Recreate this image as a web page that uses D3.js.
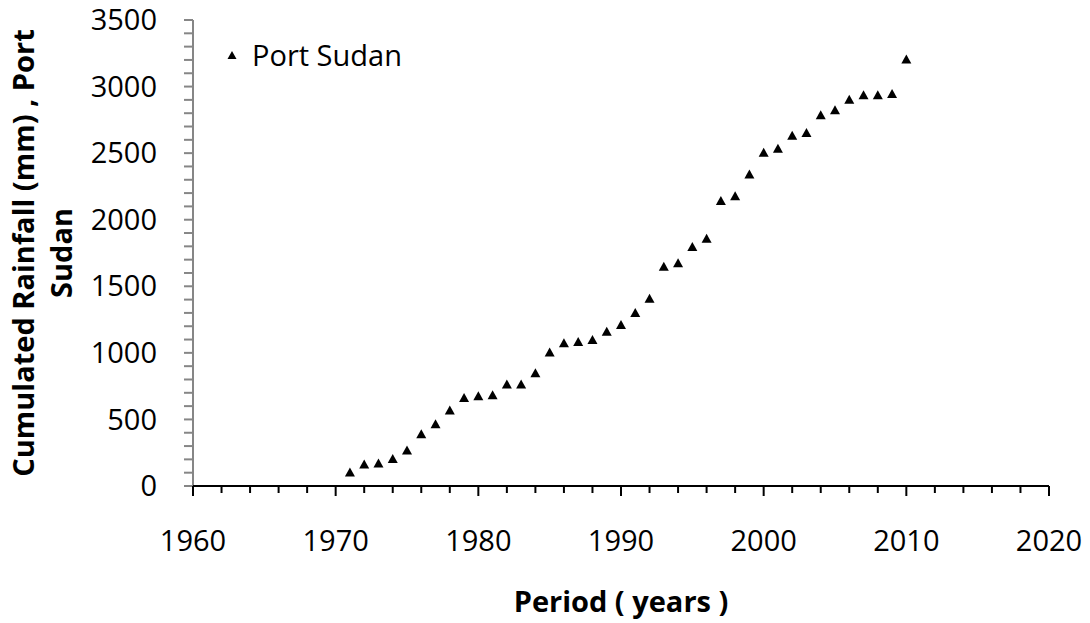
<!DOCTYPE html>
<html>
<head>
<meta charset="utf-8">
<script src="https://cdn.jsdelivr.net/npm/d3@7"></script>
<style>
    body { margin: 0; background: #fff; }
    svg text { font-family: "Open Sans", sans-serif; fill: #000; }
</style>
</head>
<body>
<div id="chart"></div>
<script>
const years = [1971, 1972, 1973, 1974, 1975, 1976, 1977, 1978, 1979, 1980,
    1981, 1982, 1983, 1984, 1985, 1986, 1987, 1988, 1989, 1990,
    1991, 1992, 1993, 1994, 1995, 1996, 1997, 1998, 1999, 2000,
    2001, 2002, 2003, 2004, 2005, 2006, 2007, 2008, 2009, 2010];
const rainfall = [105, 166, 172, 206, 270, 392, 467, 570, 665, 677,
    685, 767, 767, 850, 1007, 1075, 1085, 1100, 1162, 1213,
    1303, 1411, 1651, 1676, 1799, 1861, 2145, 2180, 2344, 2506,
    2537, 2635, 2655, 2789, 2826, 2904, 2939, 2939, 2948, 3208];
const xTicks = [1960, 1970, 1980, 1990, 2000, 2010, 2020];
const yTicks = [0, 500, 1000, 1500, 2000, 2500, 3000, 3500];
const seriesName = 'Port Sudan';

const width = 1090, height = 623;
const margin = { left: 193, right: 41, top: 20, bottom: 137 };

const svg = d3.select('#chart').append('svg')
    .attr('width', width)
    .attr('height', height);

const x = d3.scaleLinear().domain([1960, 2020]).range([margin.left, width - margin.right]);
const y = d3.scaleLinear().domain([0, 3500]).range([height - margin.bottom, margin.top]);

// triangle marker, centred on its bounding box
const tri = (w, h) => `M0 ${-h / 2} L ${w / 2} ${h / 2} L ${-w / 2} ${h / 2} Z`;

// y axis (grey) with minor ticks
const yAxisG = svg.append('g').attr('transform', `translate(${margin.left}, 0)`);
yAxisG.append('line')
    .attr('x1', 0).attr('x2', 0)
    .attr('y1', y(3500)).attr('y2', y(0))
    .attr('stroke', '#868686').attr('stroke-width', 2);
yAxisG.selectAll('.ytick').data(d3.range(0, 3501, 100))
    .join('line').attr('class', 'ytick')
    .attr('x1', -9).attr('x2', 0)
    .attr('y1', d => y(d)).attr('y2', d => y(d))
    .attr('stroke', '#868686').attr('stroke-width', 2);
yAxisG.selectAll('.ylab').data(yTicks)
    .join('text').attr('class', 'ylab')
    .attr('x', -36).attr('y', d => y(d))
    .attr('dy', '0.35em')
    .style('font-size', '29px')
    .style('text-anchor', 'end')
    .text(d => d);

// x axis (black) with minor ticks every 2 years
const xAxisG = svg.append('g').attr('transform', `translate(0, ${y(0)})`);
xAxisG.append('line')
    .attr('x1', x(1960)).attr('x2', x(2020))
    .attr('stroke', '#000').attr('stroke-width', 2);
xAxisG.selectAll('.xminor').data(d3.range(1960, 2021, 2).filter(d => d % 10 !== 0))
    .join('line').attr('class', 'xminor')
    .attr('x1', d => x(d)).attr('x2', d => x(d))
    .attr('y1', 0).attr('y2', 7)
    .attr('stroke', '#000').attr('stroke-width', 2);
xAxisG.selectAll('.xmajor').data(xTicks)
    .join('line').attr('class', 'xmajor')
    .attr('x1', d => x(d)).attr('x2', d => x(d))
    .attr('y1', 0).attr('y2', 10)
    .attr('stroke', '#000').attr('stroke-width', 2);
xAxisG.selectAll('.xlab').data(xTicks)
    .join('text').attr('class', 'xlab')
    .attr('x', d => x(d)).attr('y', 65)
    .style('font-size', '29px')
    .style('text-anchor', 'middle')
    .text(d => d);

// titles
svg.append('text')
    .attr('x', (x(1960) + x(2020)) / 2).attr('y', 612)
    .style('font-size', '29px').style('font-weight', 'bold')
    .style('text-anchor', 'middle')
    .text('Period ( years )');

const yTitle = svg.append('text')
    .attr('transform', `translate(0, ${y(1750)}) rotate(-90)`)
    .style('font-size', '29px').style('font-weight', 'bold')
    .style('text-anchor', 'middle');
yTitle.append('tspan').attr('x', 0).attr('y', 34).text('Cumulated Rainfall (mm) , Port');
yTitle.append('tspan').attr('x', 0).attr('y', 72).text('Sudan');

// points
svg.append('g').selectAll('.pt')
    .data(years.map((d, i) => ({ year: d, value: rainfall[i] })))
    .join('path').attr('class', 'pt')
    .attr('transform', d => `translate(${x(d.year)}, ${y(d.value)})`)
    .attr('d', tri(10, 9))
    .attr('fill', '#000');

// legend
const legend = svg.append('g').attr('transform', 'translate(232, 55)');
legend.append('path').attr('d', tri(9, 8)).attr('fill', '#000');
legend.append('text')
    .attr('x', 20).attr('y', 11)
    .style('font-size', '29px')
    .text(seriesName);
</script>
</body>
</html>
